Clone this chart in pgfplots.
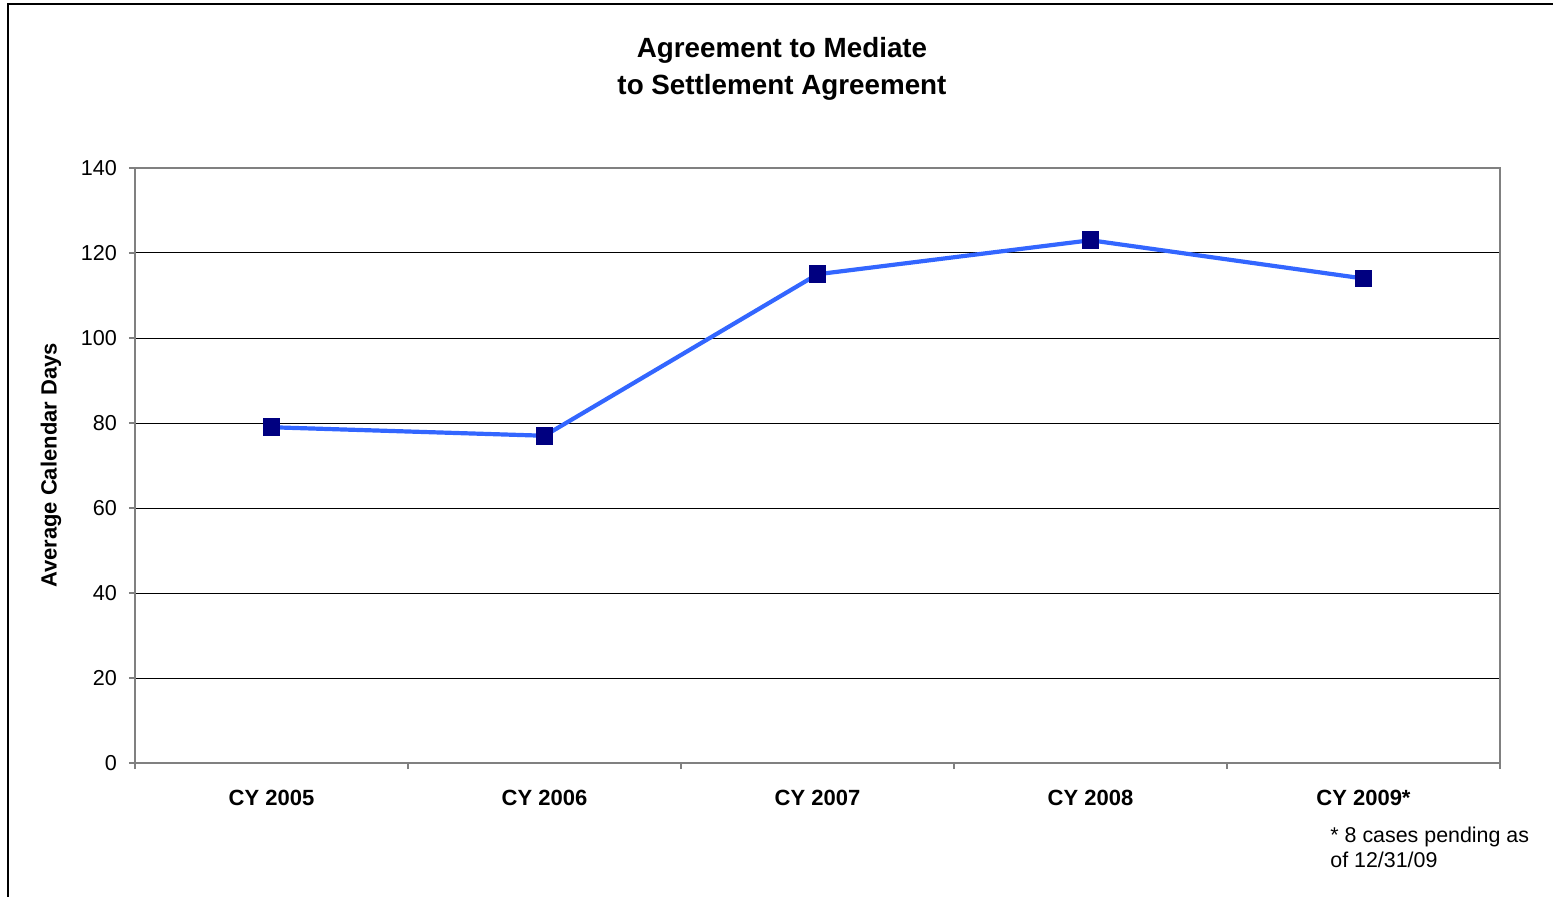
\documentclass[border=0pt]{standalone}
\usepackage{fontspec}
\setmainfont{Liberation Sans}
\usepackage{pgfplots}
\pgfplotsset{compat=1.18}
\definecolor{linec}{HTML}{3366FF}
\definecolor{markc}{HTML}{000080}
\begin{document}
\begin{tikzpicture}[x=0.5pt,y=0.5pt]
\useasboundingbox (0,0) rectangle (1553,896);
\draw[black, line width=1pt] (8,-20) -- (8,892) -- (1600,892);
\node[font=\bfseries\fontsize{13.9}{18.5}\selectfont, align=center] at (782,827) {Agreement to Mediate\\to Settlement Agreement};
\begin{axis}[
  at={(67.5pt,66.5pt)}, anchor=south west,
  width=682.5pt, height=297.5pt, scale only axis,
  xmin=-0.5, xmax=4.5, ymin=0, ymax=140,
  ytick={0,20,...,140},
  xtick={0,1,2,3,4},
  xticklabels={CY 2005,CY 2006,CY 2007,CY 2008,CY 2009*},
  minor xtick={-0.5,0.5,...,4.5},
  xtick pos=lower, ytick pos=left,
  tick align=outside,
  major tick length=3pt, minor tick length=3pt,
  major x tick style={draw=none},
  x tick label style={font=\bfseries\fontsize{11}{13}\selectfont, yshift=-7pt},
  y tick label style={font=\fontsize{10.8}{13}\selectfont, xshift=-2.5pt},
  /pgf/number format/assume math mode=true,
  ylabel={Average Calendar Days},
  ylabel style={font=\bfseries\fontsize{11}{13}\selectfont, yshift=3pt},
  ymajorgrids,
  grid style={black, line width=0.5pt},
  axis line style={gray, line width=0.7pt},
  tick style={gray, line width=0.7pt},
  clip=false,
]
\addplot[color=linec, line width=2.1pt, mark=square*, mark size=4.2pt, mark options={fill=markc, draw=markc, line width=0pt}]
  coordinates {(0,79) (1,77) (2,115) (3,123) (4,114)};
\end{axis}
\node[anchor=north west, align=left, font=\fontsize{10.7}{12.5}\selectfont, inner sep=0pt] at (1330,69) {* 8 cases pending as\\of 12/31/09};
\end{tikzpicture}
\end{document}
